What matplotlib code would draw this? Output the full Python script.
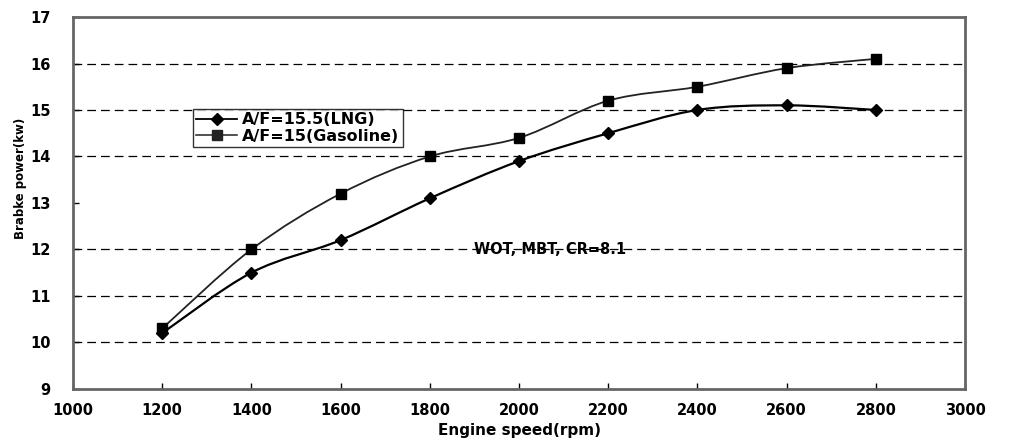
import numpy as np
import matplotlib
matplotlib.use("Agg")
import matplotlib.pyplot as plt
from matplotlib.path import Path
from matplotlib.patches import PathPatch
from matplotlib.lines import Line2D

plt.rcParams['font.family'] = ['DejaVu Sans']
plt.rcParams['font.weight'] = 'bold'

speed = [1200, 1400, 1600, 1800, 2000, 2200, 2400, 2600, 2800]
power_lng = [10.2, 11.5, 12.2, 13.1, 13.9, 14.5, 15.0, 15.1, 15.0]
power_gas = [10.3, 12.0, 13.2, 14.0, 14.4, 15.2, 15.5, 15.9, 16.1]
label_lng = "A/F=15.5(LNG)"
label_gas = "A/F=15(Gasoline)"
grid_levels = [10, 11, 12, 14, 15, 16]
x_ticks = [1000, 1200, 1400, 1600, 1800, 2000, 2200, 2400, 2600, 2800, 3000]
y_ticks = [9, 10, 11, 12, 13, 14, 15, 16, 17]
note = "WOT, MBT, CR=8.1"


def smooth_path(x, y):
    # catmull-rom segments written as cubic bezier, like excel's smoothed line
    p = np.column_stack([x, y]).astype(float)
    verts = [p[0]]
    codes = [Path.MOVETO]
    for i in range(len(p) - 1):
        p0 = p[i - 1] if i > 0 else p[i]
        p3 = p[i + 2] if i + 2 < len(p) else p[i + 1]
        c1 = p[i] + (p[i + 1] - p0) / 6.0
        c2 = p[i + 1] - (p3 - p[i]) / 6.0
        verts += [c1, c2, p[i + 1]]
        codes += [Path.CURVE4] * 3
    return Path(verts, codes)


fig = plt.figure(figsize=(10.2, 4.48), dpi=100)
ax = fig.add_axes([0.0716, 0.132, 0.8745, 0.830])

for lv in grid_levels:
    ax.axhline(lv, color='black', lw=0.9, ls=(0, (7, 4)), zorder=1)

ax.add_patch(PathPatch(smooth_path(speed, power_lng), fill=False, ec='black', lw=1.6, zorder=3))
ax.add_patch(PathPatch(smooth_path(speed, power_gas), fill=False, ec='#222222', lw=1.3, zorder=3))
ax.plot(speed, power_lng, ls='none', marker='D', ms=6, color='black', zorder=4)
ax.plot(speed, power_gas, ls='none', marker='s', ms=7, color='black', zorder=4)

ax.set_xlim(1000, 3000)
ax.set_ylim(9, 17)
ax.set_xticks(x_ticks)
ax.set_yticks(y_ticks)
ax.tick_params(axis='x', direction='in', length=4, width=1, labelsize=10.5, pad=10)
ax.tick_params(axis='y', direction='in', length=4, width=1, labelsize=10.5, pad=16)
for t in ax.get_xticklabels() + ax.get_yticklabels():
    t.set_fontweight('bold')
for s in ax.spines.values():
    s.set_color('#666666')
    s.set_linewidth(2)

ax.set_xlabel("Engine speed(rpm)", fontsize=11, fontweight='bold', labelpad=4)
ax.set_ylabel("Brabke power(kw)", fontsize=8.5, fontweight='bold', labelpad=2)
ax.yaxis.set_label_coords(-0.052, 0.567)

ax.text(2070, 12, note, fontsize=10.5, fontweight='bold', ha='center', va='center', zorder=5)

handles = [Line2D([], [], color='black', lw=1.3, marker='D', ms=6),
           Line2D([], [], color='#222222', lw=1.1, marker='s', ms=7)]
leg = ax.legend(handles, [label_lng, label_gas], loc='upper left',
                bbox_to_anchor=(0.134, 0.752), frameon=True, fancybox=False,
                handlelength=2.6, handletextpad=0.3, borderpad=0.2, labelspacing=0.1,
                borderaxespad=0, prop={'size': 11.5, 'weight': 'bold'})
leg.get_frame().set_edgecolor('black')
leg.get_frame().set_linewidth(1.0)
leg.set_zorder(6)

fig.savefig("out.png", dpi=100)
